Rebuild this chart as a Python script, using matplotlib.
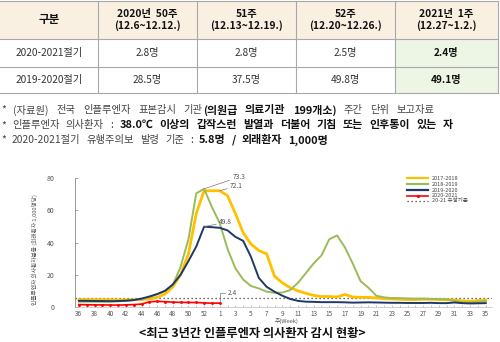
import matplotlib
matplotlib.use('Agg')
import matplotlib.pyplot as plt
from matplotlib.patches import Rectangle

plt.rcParams['font.family'] = ['Noto Sans CJK KR', 'DejaVu Sans']

# ---------------- data ----------------
table_header = ['구분', '2020년  50주\n(12.6~12.12.)', '51주\n(12.13~12.19.)',
                '52주\n(12.20~12.26.)', '2021년  1주\n(12.27~1.2.)']
table_rows = ['2020-2021절기', '2019-2020절기']
table_vals = [['2.8명', '2.8명', '2.5명', '2.4명'],
              ['28.5명', '37.5명', '49.8명', '49.1명']]

notes = [
    [('* (자료원) 전국 인플루엔자 표본감시 기관', False), ('(의원급 의료기관 199개소)', True),
     (' 주간 단위 보고자료', False)],
    [('* 인플루엔자 의사환자 : ', False),
     ('38.0℃ 이상의 갑작스런 발열과 더불어 기침 또는 인후통이 있는 자', True)],
    [('* 2020-2021절기 유행주의보 발령 기준 : ', False), ('5.8명 / 외래환자 1,000명', True)],
]

weeks = list(range(36, 54)) + list(range(1, 36))
tick_weeks = list(range(36, 53, 2)) + list(range(1, 36, 2))

s_1718 = [4.5, 4.5, 4.5, 4.5, 4.5, 4.4, 4.4, 4.5, 4.6, 5.0,
          6.0, 8.0, 12.5, 20.0, 33.0, 58.0, 72.1, 72.1, 72.1, 69.0,
          58.0, 46.0, 39.0, 35.0, 33.0, 19.0, 15.0, 12.0, 10.0, 8.5,
          7.2, 6.5, 6.5, 6.2, 7.8, 6.2, 6.0, 6.0, 5.6, 5.2,
          5.0, 4.8, 4.6, 4.6, 4.8, 4.8, 4.6, 4.5, 4.4, 3.8,
          3.6, 4.0, 4.3]
s_1819 = [3.3, 3.3, 3.3, 3.2, 3.3, 3.5, 3.8, 4.3, 5.0, 6.0,
          8.0, 10.0, 13.5, 25.0, 42.0, 70.5, 73.3, 62.0, 52.0, 36.0,
          24.0, 17.0, 13.0, 11.5, 9.5, 8.8, 9.0, 10.5, 15.0, 21.0,
          27.0, 32.0, 42.0, 44.4, 37.0, 27.0, 16.0, 12.0, 7.0, 6.0,
          5.5, 5.5, 5.3, 5.2, 5.2, 5.0, 5.0, 4.8, 3.8, 2.8,
          2.8, 3.2, 3.6]
s_1920 = [3.8, 3.8, 3.7, 3.7, 3.6, 3.7, 3.9, 4.3, 5.2, 6.5,
          8.0, 10.0, 14.0, 20.0, 28.5, 37.5, 49.8, 49.5, 49.1, 47.5,
          43.5, 41.0, 31.0, 18.0, 12.5, 9.5, 7.0, 5.0, 3.8, 3.3,
          3.2, 3.0, 3.0, 3.0, 2.9, 2.7, 2.8, 2.9, 2.8, 2.7,
          2.6, 2.6, 2.5, 2.5, 2.5, 2.6, 2.4, 2.4, 2.8, 2.4,
          2.2, 2.3, 2.4]
s_2021 = [1.5, 1.4, 1.3, 1.3, 1.2, 1.2, 1.3, 1.5, 1.8, 3.2,
          3.5, 3.3, 3.0, 2.9, 2.8, 2.8, 2.5, 2.4, 2.4]
threshold = 5.8

series = [('2017-2018', s_1718, '#FFC000', 2.0),
          ('2018-2019', s_1819, '#9BBB59', 1.4),
          ('2019-2020', s_1920, '#1F3864', 1.4),
          ('2020-2021', s_2021, '#FF0000', 1.2)]

# ---------------- figure ----------------
W, H = 500, 342
fig = plt.figure(figsize=(W / 100, H / 100), dpi=100)
fig.patch.set_facecolor('white')

ov = fig.add_axes([0, 0, 1, 1], zorder=0)
ov.set_xlim(0, W)
ov.set_ylim(H, 0)
ov.axis('off')

# ---- table ----
col_x = [0, 98, 197, 296, 395, 498]
row_y = [1, 39, 66.5, 93]
header_bg = '#f9f0e2'
green_bg = '#edf5e5'
line_c = '#a8a8a8'
ov.add_patch(Rectangle((col_x[0], row_y[0]), col_x[-1] - col_x[0], row_y[1] - row_y[0],
                       facecolor=header_bg, edgecolor='none'))
ov.add_patch(Rectangle((col_x[4], row_y[1]), col_x[5] - col_x[4], row_y[3] - row_y[1],
                       facecolor=green_bg, edgecolor='none'))
for y in row_y:
    ov.plot([col_x[0], col_x[-1]], [y, y], color=line_c, lw=0.8)
for x in col_x[1:]:
    ov.plot([x, x], [row_y[0], row_y[-1]], color=line_c, lw=0.8)

for i, h in enumerate(table_header):
    cx = (col_x[i] + col_x[i + 1]) / 2
    cy = (row_y[0] + row_y[1]) / 2
    ov.text(cx, cy, h, ha='center', va='center', fontsize=8.3 if i == 0 else 7.4,
            fontweight='bold', color='#111111', linespacing=1.05)
for r, name in enumerate(table_rows):
    cy = (row_y[r + 1] + row_y[r + 2]) / 2
    ov.text((col_x[0] + col_x[1]) / 2, cy, name, ha='center', va='center',
            fontsize=7.3, color='#333333')
    for c, v in enumerate(table_vals[r]):
        cx = (col_x[c + 1] + col_x[c + 2]) / 2
        last = c == len(table_vals[r]) - 1
        ov.text(cx, cy, v, ha='center', va='center', fontsize=7.3,
                fontweight='bold' if last else 'normal',
                color='#111111' if last else '#333333')

# ---- notes (word-by-word, spread like the original) ----
renderer = fig.canvas.get_renderer()
note_y = [110, 125, 140]
note_end = [435, 453, 328]
for parts, y, xend in zip(notes, note_y, note_end):
    tokens = []
    prev_trail = False
    for txt, bold in parts:
        lead = txt.startswith(' ') or prev_trail
        ws = txt.split()
        for k, w in enumerate(ws):
            tokens.append((w, bold, (k > 0) or lead))
        prev_trail = txt.endswith(' ')
    tokens[0] = (tokens[0][0], tokens[0][1], False)
    arts = []
    total = 0
    for w, bold, g in tokens:
        t = ov.text(0, y, w, ha='left', va='center', fontsize=7.9 if bold else 7.4,
                    fontweight='bold' if bold else 'normal',
                    color='#111111' if bold else '#444444')
        bb = t.get_window_extent(renderer=renderer)
        arts.append((t, bb.width, g))
        total += bb.width
    ngaps = sum(1 for a in arts if a[2])
    gap = (xend - 1 - total) / max(ngaps, 1)
    x = 1
    for t, wdt, g in arts:
        if g:
            x += gap
        t.set_x(x)
        x += wdt

# ---- chart ----
ax = fig.add_axes([75 / W, (H - 307) / H, 417 / W, 129 / H], zorder=2)
ax.patch.set_alpha(0)
xs = list(range(len(weeks)))
ax.axhline(threshold, color='#333333', lw=0.9, ls=(0, (1, 2.2)), zorder=1)
for name, vals, col, lw in series:
    if name == '2020-2021':
        ax.plot(xs[:len(vals)], vals, color=col, lw=lw, marker='.', ms=2.2, zorder=4)
    else:
        ax.plot(xs[:len(vals)], vals, color=col, lw=lw, zorder=3)

ax.set_xlim(-0.5, 52.8)
ax.set_ylim(0, 80)
ax.set_yticks([0, 20, 40, 60, 80])
ax.set_xticks([weeks.index(w) for w in tick_weeks])
ax.set_xticklabels([str(w) for w in tick_weeks])
ax.set_xticks(xs, minor=True)
for s in ['top', 'right']:
    ax.spines[s].set_visible(False)
ax.spines['left'].set_color('#888888')
ax.spines['left'].set_linewidth(0.6)
ax.spines['bottom'].set_color('#bbbbbb')
ax.spines['bottom'].set_linewidth(0.5)
ax.tick_params(axis='y', direction='in', length=2, width=0.5, color='#888888',
               labelsize=5, labelcolor='#555555', pad=15)
ax.tick_params(axis='x', which='both', direction='in', length=1.5, width=0.4,
               color='#999999', labelsize=4.6, labelcolor='#555555', pad=2.5)

# annotations
ann_c = '#777777'
i_1819 = s_1819.index(max(s_1819[:25]))
i_1718 = 18
i_1920 = s_1920.index(max(s_1920))
i_2021 = len(s_2021) - 1
ax.annotate(f'{s_1819[i_1819]:.1f}', xy=(i_1819, s_1819[i_1819]), xytext=(19.6, 80.5),
            fontsize=4.8, color='#555555', va='center', annotation_clip=False,
            arrowprops=dict(arrowstyle='-', color=ann_c, lw=0.5, shrinkA=0, shrinkB=0))
ax.annotate(f'{s_1718[i_1718]:.1f}', xy=(i_1718, s_1718[i_1718]), xytext=(19.3, 75.0),
            fontsize=4.8, color='#555555', va='center',
            arrowprops=dict(arrowstyle='-', color=ann_c, lw=0.5, shrinkA=0, shrinkB=0))
ax.annotate(f'{s_1920[i_1920]:.1f}', xy=(i_1920, s_1920[i_1920]), xytext=(17.9, 52.5),
            fontsize=4.8, color='#555555', va='center',
            arrowprops=dict(arrowstyle='-', color=ann_c, lw=0.5, shrinkA=0, shrinkB=0))
ax.annotate(f'{s_2021[i_2021]:.1f}', xy=(i_2021, s_2021[i_2021]), xytext=(19.0, 8.8),
            fontsize=4.8, color='#555555', va='center',
            arrowprops=dict(arrowstyle='-', color=ann_c, lw=0.5, shrinkA=0, shrinkB=0,
                            connectionstyle='angle,angleA=0,angleB=90,rad=0'))

# y label and x label (overlay)
ov.text(35, 250, '인플루엔자 의사환자분율 (외래환자 1,000명당)', rotation=90, ha='center', va='center',
        fontsize=4.1, color='#555555')
ov.text(287, 321, '주(Week)', ha='center', va='center', fontsize=4.2, color='#555555')

# legend (manual, overlay)
leg_y = [178, 184, 190, 195.5, 201]
leg_items = [(n, c) for n, v, c, lw in series] + [('20-21 유행기준', '#333333')]
for (name, col), y in zip(leg_items, leg_y):
    if name.startswith('20-21'):
        ov.plot([407, 428], [y, y], color=col, lw=0.9, ls=(0, (1, 2.2)))
    elif name == '2020-2021':
        ov.plot([407, 428], [y, y], color=col, lw=1.2)
        ov.plot([417.5], [y], color=col, marker='.', ms=2.5)
    else:
        ov.plot([407, 428], [y, y], color=col, lw=1.6)
    ov.text(432, y, name, ha='left', va='center', fontsize=4.0, color='#444444')

# caption
ov.text(252, 334, '<최근 3년간 인플루엔자 의사환자 감시 현황>', ha='center', va='center',
        fontsize=8.8, fontweight='bold', color='#111111')

fig.savefig('out.png', dpi=100)
